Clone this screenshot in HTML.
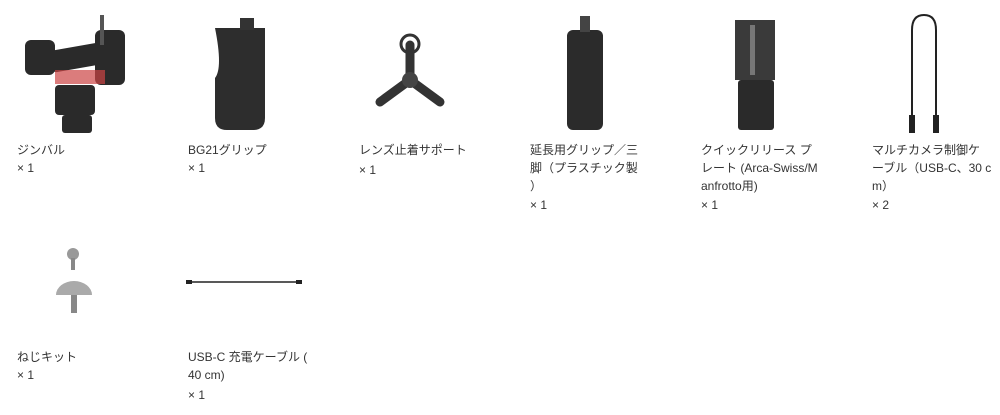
<!DOCTYPE html>
<html><head><meta charset="utf-8"><style>
body{margin:0;width:1000px;height:415px;background:#fff;position:relative;overflow:hidden;font-family:"Liberation Sans","Noto Sans CJK JP",sans-serif;color:#333;font-size:12px}
.t{position:absolute;width:140px;line-height:18px;white-space:nowrap}
.q{position:absolute}
svg{position:absolute;left:0;top:0}
</style></head><body>
<svg width="1000" height="415">
<g fill="#2a2a2a">
<rect x="25" y="40" width="30" height="35" rx="6"/>
<rect x="50" y="45" width="70" height="22" rx="5" transform="rotate(-10 85 56)"/>
<rect x="95" y="30" width="30" height="55" rx="6"/>
<rect x="55" y="70" width="50" height="14" fill="#c44" opacity=".7"/>
<rect x="55" y="85" width="40" height="30" rx="4"/>
<rect x="62" y="115" width="30" height="18" rx="3"/>
<rect x="100" y="15" width="4" height="30" fill="#555"/>
</g>
<path d="M215 28 h50 v90 q0 12 -12 12 h-26 q-12 0 -12 -12 v-40 q8 -10 0 -50z" fill="#2d2d2d"/>
<rect x="240" y="18" width="14" height="12" fill="#333"/>
<g stroke="#333" stroke-width="9" stroke-linecap="round" fill="none">
<line x1="410" y1="80" x2="410" y2="45"/><line x1="410" y1="80" x2="380" y2="102"/><line x1="410" y1="80" x2="440" y2="102"/>
</g>
<circle cx="410" cy="44" r="9" fill="none" stroke="#333" stroke-width="3"/>
<circle cx="410" cy="80" r="8" fill="#444"/>
<rect x="567" y="30" width="36" height="100" rx="6" fill="#2b2b2b"/>
<rect x="580" y="16" width="10" height="16" fill="#444"/>
<rect x="735" y="20" width="40" height="60" fill="#3a3a3a"/>
<rect x="738" y="80" width="36" height="50" rx="3" fill="#2a2a2a"/>
<rect x="750" y="25" width="5" height="50" fill="#777"/>
<path d="M912 125 V30 q0 -15 12 -15 q12 0 12 15 V125" stroke="#222" stroke-width="2" fill="none"/>
<rect x="909" y="115" width="6" height="18" fill="#222"/><rect x="933" y="115" width="6" height="18" fill="#222"/>
<circle cx="73" cy="254" r="6" fill="#999"/><rect x="71" y="258" width="4" height="12" fill="#888"/>
<path d="M56 295 a18 14 0 0 1 36 0z" fill="#aaa"/><rect x="71" y="295" width="6" height="18" fill="#888"/>
<line x1="188" y1="282" x2="302" y2="282" stroke="#222" stroke-width="1.5"/>
<rect x="186" y="280" width="6" height="4" fill="#222"/><rect x="296" y="280" width="6" height="4" fill="#222"/>
</svg>
<div class="t" style="left:17px;top:141px">ジンバル<br>× 1</div>
<div class="t" style="left:188px;top:141px">BG21グリップ<br>× 1</div>
<div class="t" style="left:359px;top:141px">レンズ止着サポート</div><div class="q" style="left:359px;top:163px">× 1</div>
<div class="t" style="left:530px;top:141px">延長用グリップ／三<br>脚（プラスチック製<br>）</div><div class="q" style="left:530px;top:198px">× 1</div>
<div class="t" style="left:701px;top:141px">クイックリリース プ<br>レート (Arca-Swiss/M<br>anfrotto用)</div><div class="q" style="left:701px;top:198px">× 1</div>
<div class="t" style="left:872px;top:141px">マルチカメラ制御ケ<br>ーブル（USB-C、30 c<br>m）</div><div class="q" style="left:872px;top:198px">× 2</div>
<div class="t" style="left:17px;top:348px">ねじキット<br>× 1</div>
<div class="t" style="left:188px;top:348px">USB-C 充電ケーブル (<br>40 cm)</div><div class="q" style="left:188px;top:388px">× 1</div>
</body></html>
